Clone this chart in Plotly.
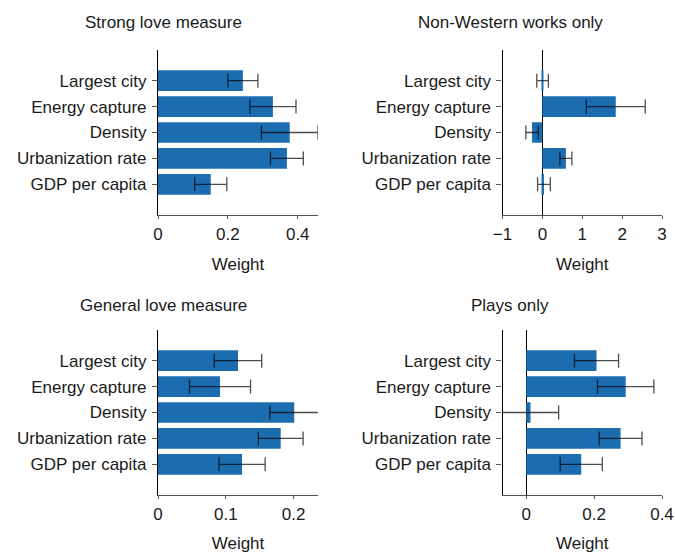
import plotly.graph_objects as go

categories = ["Largest city", "Energy capture", "Density", "Urbanization rate", "GDP per capita"]

titles = ["Strong love measure", "Non-Western works only", "General love measure", "Plays only"]

strong_vals = [0.243, 0.329, 0.377, 0.369, 0.151]
strong_err = [0.043, 0.066, 0.081, 0.047, 0.046]

nonwestern_vals = [0.005, 1.84, -0.26, 0.59, 0.04]
nonwestern_err = [0.145, 0.74, 0.155, 0.15, 0.16]

general_vals = [0.118, 0.0915, 0.201, 0.181, 0.124]
general_err = [0.035, 0.045, 0.036, 0.033, 0.034]

plays_vals = [0.207, 0.293, 0.0125, 0.278, 0.162]
plays_err = [0.065, 0.083, 0.083, 0.063, 0.062]

x_ranges = [[0, 0.458], [-1, 3], [0, 0.236], [-0.07, 0.4]]
x_ticks = [[0, 0.2, 0.4], [-1, 0, 1, 2, 3], [0, 0.1, 0.2], [0, 0.2, 0.4]]
x_ticktext = [["0", "0.2", "0.4"], ["\u22121", "0", "1", "2", "3"], ["0", "0.1", "0.2"], ["0", "0.2", "0.4"]]
show_zero = [False, True, False, True]

W, H = 675, 553
BAR = "#1b6db0"
FONT = "Liberation Sans, Arial, Helvetica, sans-serif"

# plot-area pixel boxes (left, right, top, bottom)
boxes = [(158, 318, 50, 215), (502.5, 662, 50, 215), (158, 318, 330, 495), (502.5, 662, 330, 495)]
title_pos = [(163, 23), (510, 23), (163, 305), (510, 305)]

series = [(strong_vals, strong_err), (nonwestern_vals, nonwestern_err),
          (general_vals, general_err), (plays_vals, plays_err)]

fig = go.Figure()
layout = dict(
    width=W, height=H, autosize=False,
    margin=dict(l=0, r=0, t=0, b=0),
    paper_bgcolor="white", plot_bgcolor="white",
    font=dict(family=FONT, size=17, color="#1a1a1a"),
    showlegend=False,
    bargap=0.2,
    annotations=[],
)

for i, ((vals, errs), (l, r, t, b)) in enumerate(zip(series, boxes)):
    n = "" if i == 0 else str(i + 1)
    fig.add_trace(go.Bar(
        x=vals, y=categories, orientation="h",
        marker=dict(color=BAR, line=dict(width=0)),
        error_x=dict(type="data", array=errs, symmetric=True,
                     color="rgba(0,0,0,0.7)", thickness=1.3, width=7),
        xaxis="x" + n, yaxis="y" + n,
    ))
    layout["xaxis" + n] = dict(
        domain=[l / W, r / W], anchor="y" + n,
        range=x_ranges[i], tickvals=x_ticks[i], ticktext=x_ticktext[i],
        showgrid=False, zeroline=show_zero[i], zerolinecolor="black", zerolinewidth=1,
        showline=True, linecolor="#555", linewidth=1.2,
        ticks="outside", ticklen=3, tickcolor="#555",
        tickfont=dict(size=17), automargin=False,
        title=dict(text="Weight", standoff=15, font=dict(size=17)),
    )
    layout["yaxis" + n] = dict(
        domain=[1 - b / H, 1 - t / H], anchor="x" + n,
        type="category", categoryorder="array", categoryarray=categories,
        range=[5.185, -1.185],
        showgrid=False, zeroline=False,
        showline=True, linecolor="black", linewidth=1.2,
        ticks="outside", ticklen=5, tickcolor="#555",
        tickfont=dict(size=17), automargin=False,
        ticklabelstandoff=2,
    )
    tx, ty = title_pos[i]
    layout["annotations"].append(dict(
        text=titles[i], x=tx / W, y=1 - ty / H, xref="paper", yref="paper",
        xanchor="center", yanchor="middle", showarrow=False,
        font=dict(size=17),
    ))

fig.update_layout(**layout)
fig.write_html(
    "out.html",
    config={"responsive": False, "displayModeBar": False},
    post_script="document.body.style.margin='0';document.body.style.padding='0';",
)
